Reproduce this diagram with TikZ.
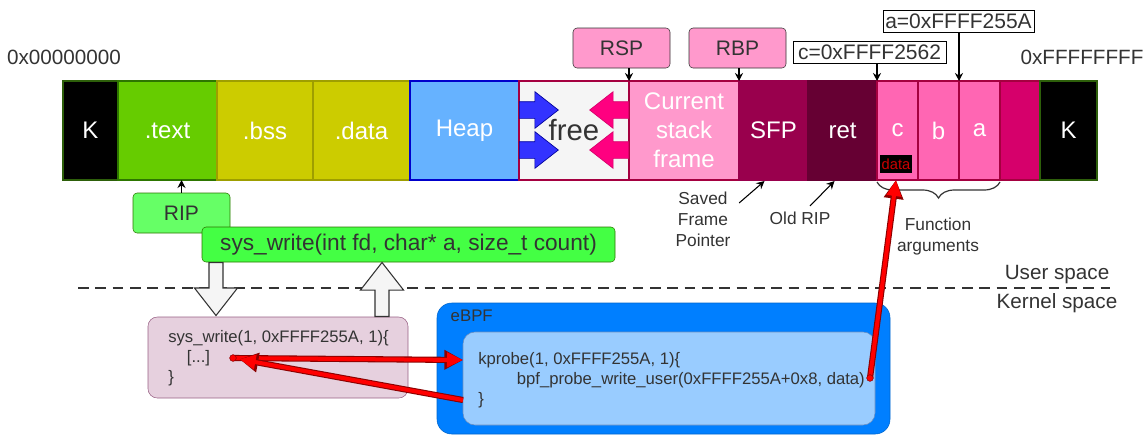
\documentclass[tikz,border=0pt]{standalone}
\usepackage{fontspec}
\setmainfont{Liberation Sans}
\usetikzlibrary{positioning, arrows.meta, shapes.arrows, decorations.pathreplacing, calc}

\definecolor{kborder}{HTML}{2D5F0A}
\definecolor{textfill}{HTML}{66CC00}
\definecolor{textline}{HTML}{2D7600}
\definecolor{olivefill}{HTML}{CCCC00}
\definecolor{oliveline}{HTML}{9E9E00}
\definecolor{heapfill}{HTML}{66B2FF}
\definecolor{heapline}{HTML}{0000CC}
\definecolor{freefill}{HTML}{F5F5F5}
\definecolor{stackline}{HTML}{A50040}
\definecolor{framefill}{HTML}{FF99CC}
\definecolor{sfpfill}{HTML}{99004D}
\definecolor{retfill}{HTML}{660033}
\definecolor{argfill}{HTML}{FF66B3}
\definecolor{padfill}{HTML}{D6006B}
\definecolor{growblue}{HTML}{3333FF}
\definecolor{growpink}{HTML}{FF0080}
\definecolor{ripfill}{HTML}{66FF66}
\definecolor{callfill}{HTML}{44FF44}
\definecolor{sysfill}{HTML}{E6D0DE}
\definecolor{sysline}{HTML}{996185}
\definecolor{ebpffill}{HTML}{007FFF}
\definecolor{probefill}{HTML}{99CCFF}
\definecolor{probeline}{HTML}{6C8EBF}
\definecolor{darkred}{HTML}{8B0000}
\definecolor{ink}{HTML}{333333}

\begin{document}
\begin{tikzpicture}[x=0.75pt, y=-0.75pt,
		seg/.style={minimum height=74.25pt, inner sep=0pt, outer sep=0pt, line width=1.2pt,
			text=white, align=center, font=\fontsize{18}{21.75}\selectfont},
		reg/.style={draw=ink, rounded corners=3pt, minimum width=72.75pt, minimum height=30pt,
			text=ink, font=\fontsize{15.75}{18}\selectfont},
		addr/.style={draw=black, fill=white, minimum height=16.5pt, inner sep=1pt,
			text=ink, font=\fontsize{15.75}{18}\selectfont},
		bound/.style={text=ink, font=\fontsize{15.5}{18}\selectfont},
		ptr/.style={-{Stealth[length=6pt, width=6pt]}, black, line width=0.8pt},
		growarrow/.style={single arrow, single arrow head extend=7.5pt, single arrow tip angle=76,
			minimum height=29.25pt, inner xsep=0pt, inner ysep=6pt, line width=0.5pt},
		hollow/.style={single arrow, draw=ink, fill=freefill, single arrow head extend=10.9pt,
			single arrow tip angle=76, inner xsep=4.85pt, inner ysep=0pt, line width=0.8pt},
		note/.style={text=ink, align=center, font=\fontsize{13}{15.75}\selectfont},
		code/.style={text=ink, align=left, inner sep=0pt, font=\fontsize{12.5}{15}\selectfont},
		hack/.style={line width=3pt, red,
			preaction={draw=darkred, line width=4.6pt, -{Triangle[length=14pt, width=14pt]}},
			-{Triangle[length=12pt, width=10.5pt]}},
		hole/.style={circle, fill=red, draw=darkred, inner sep=0pt, minimum size=5pt}
		]
		\useasboundingbox (0,0) rectangle (1148,437);
		\node[seg, fill=black, draw=kborder, line width=2.2pt, minimum width=41.25pt, anchor=north west]
			(k1) at (63,81) {K};
		\node[seg, fill=textfill, draw=textline, minimum width=74.25pt, right=0pt of k1] (txt) {.text};
		\node[seg, fill=olivefill, draw=oliveline, minimum width=72pt, right=0pt of txt] (bss) {.bss};
		\node[seg, fill=olivefill, draw=oliveline, minimum width=72.75pt, right=0pt of bss] (dat) {.data};
		\node[seg, fill=heapfill, draw=heapline, line width=0.8pt, minimum width=81.75pt, right=0pt of dat] (heap) {Heap};
		\node[seg, fill=freefill, draw=stackline, line width=0.8pt, minimum width=82.5pt, right=0pt of heap] (free) {};
		\node[seg, fill=framefill, draw=stackline, line width=0.8pt, minimum width=82.5pt, right=0pt of free]
			(csf) {Current\\stack\\frame};
		\node[seg, fill=sfpfill, draw=sfpfill, minimum width=51.75pt, right=0pt of csf] (sfp) {SFP};
		\node[seg, fill=retfill, draw=retfill, minimum width=51.75pt, right=0pt of sfp] (ret) {ret};
		\node[seg, fill=argfill, draw=stackline, line width=0.8pt, minimum width=30.75pt, right=0pt of ret] (argc) {c};
		\node[seg, fill=argfill, draw=stackline, line width=0.8pt, minimum width=30.75pt, right=0pt of argc] (argb) {b};
		\node[seg, fill=argfill, draw=stackline, line width=0.8pt, minimum width=30.75pt, right=0pt of argb] (arga) {a};
		\node[seg, fill=padfill, draw=stackline, line width=0.8pt, minimum width=30pt, right=0pt of arga] (pad) {};
		\node[seg, fill=black, draw=kborder, line width=2.2pt, minimum width=42.75pt, right=0pt of pad] (k2) {K};
		\node[fill=black, text=red!80!black, inner sep=1pt, minimum height=13.5pt,
			font=\fontsize{11}{11}\selectfont] (data) at (896,164) {data};
		\node[growarrow, fill=growblue, draw=blue!60!black, anchor=tail] (heapup) at (519,110) {};
		\node[growarrow, fill=growblue, draw=blue!60!black, anchor=tail] (heapdown) at (519,150) {};
		\node[growarrow, fill=growpink, draw=padfill, shape border rotate=180, anchor=tail] (stackup) at (629,110) {};
		\node[growarrow, fill=growpink, draw=padfill, shape border rotate=180, anchor=tail] (stackdown) at (629,150) {};
		\node[text=ink, font=\fontsize{22}{22}\selectfont] (freelbl) at (free.center) {free};
		\node[bound] (low) at (64,57) {0x00000000};
		\node[bound] (high) at (1082,57) {0xFFFFFFFF};
		\node[reg, fill=framefill] (rsp) at (621.5,48) {RSP};
		\node[reg, fill=framefill] (rbp) at (737.5,48) {RBP};
		\draw[ptr] (rsp.south -| csf.north west) -- (csf.north west);
		\draw[ptr] (rbp.south -| sfp.north west) -- (sfp.north west);
		\node[addr, minimum width=114.75pt] (cval) at (869.5,52) {c=0xFFFF2562};
		\node[addr, minimum width=113.25pt] (aval) at (958.5,21.5) {a=0xFFFF255A};
		\draw[ptr] (cval.south -| argc.north west) -- (argc.north west);
		\draw[ptr] (aval.south -| arga.north west) -- (arga.north west);
		\node[reg, fill=ripfill, draw=textline] (rip) at (181.5,213) {RIP};
		\draw[ptr] (rip.north) -- (rip.north |- txt.south);
		\node[reg, fill=callfill, draw=textline, minimum width=309.75pt, minimum height=26.25pt,
			font=\fontsize{17}{20}\selectfont] (call) at (408.5,244.5) {sys\_write(int fd, char* a, size\_t count)};
		\node[note] (saved) at (703,219) {Saved\\Frame\\Pointer};
		\node[note] (oldrip) at (800,218) {Old RIP};
		\draw[ptr] ([shift={(4,16)}]saved.north east) -- ([shift={(-9,1)}]sfp.south);
		\draw[ptr] ([shift={(10,-1)}]oldrip.north) -- ([shift={(-8,1)}]ret.south);
		\draw[decorate, decoration={brace, mirror, amplitude=12pt}, ink, line width=0.9pt]
			([yshift=-1.5pt]argc.south west) -- ([yshift=-1.5pt]arga.south east);
		\node[note] (args) at (938,237) {Function\\arguments};
		\coordinate (userL) at (78,288);
		\coordinate (userR) at (1110,288);
		\draw[ink, line width=1.5pt, dash pattern=on 8pt off 5pt] (userL) -- (userR);
		\node[bound, anchor=east] (user) at (1114,275) {User space};
		\node[bound, anchor=east] (kern) at (1122,303) {Kernel space};
		\node[draw=sysline, fill=sysfill, rounded corners=7pt, minimum width=195pt, minimum height=60.75pt]
			(ksys) at (278,357.5) {};
		\node[code, anchor=west] (ksystxt) at (168,358) {sys\_write(1, 0xFFFF255A, 1)\{\\\hspace*{14pt}[...]\\\}};
		\node[hollow, shape border rotate=270, minimum height=39.75pt, anchor=tail] (down) at (216,262) {};
		\node[hollow, shape border rotate=90, minimum height=40.5pt, anchor=tail] (up) at (382,317) {};
		\node[fill=ebpffill, draw=ebpffill!80!black, rounded corners=11pt, minimum width=339.75pt,
			minimum height=98.25pt] (ebpf) at (663.5,368.5) {};
		\node[anchor=west, text=ink, font=\fontsize{12.6}{14}\selectfont] (ebpflbl) at (446,316) {eBPF};
		\node[fill=probefill, draw=probeline, rounded corners=9pt, minimum width=309pt, minimum height=69.75pt]
			(probe) at (669,378.5) {};
		\node[code, anchor=west] (probetxt) at (478,380)
			{kprobe(1, 0xFFFF255A, 1)\{\\\hspace*{29pt}bpf\_probe\_write\_user(0xFFFF255A+0x8, data)\\\}};
		\coordinate (dotA) at (233,358);
		\coordinate (dotB) at (870,378);
		\coordinate (probeIn) at (463,360);
		\coordinate (probeOut) at (463,400);
		\draw[hack] (dotA) -- (probeIn);
		\draw[hack, shorten >=5pt] (probeOut) -- (dotA);
		\draw[hack] (dotB) -- (data.south |- argc.south);
		\node[hole] (holeA) at (dotA) {};
		\node[hole] (holeB) at (dotB) {};
\end{tikzpicture}
\end{document}
